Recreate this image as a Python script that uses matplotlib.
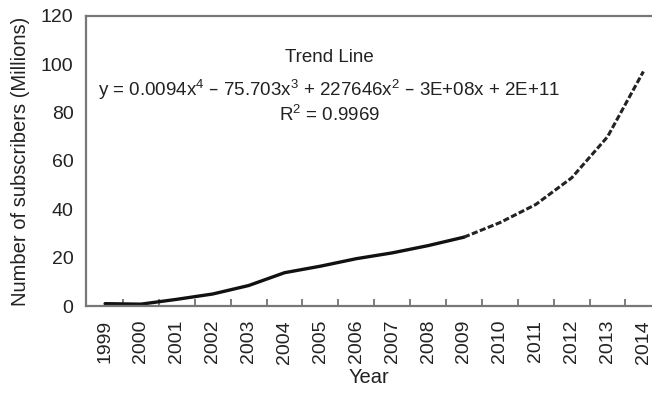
import numpy as np
import matplotlib.pyplot as plt

plt.rcParams['font.family'] = ['Liberation Sans', 'DejaVu Sans']
plt.rcParams['mathtext.default'] = 'regular'

years = [str(y) for y in range(1999, 2015)]
actual = [1.0, 0.8, 2.8, 5.0, 8.5, 13.8, 16.5, 19.6, 22.0, 25.0, 28.5]
trend = [28.5, 34.5, 42.0, 53.0, 70.0, 97.0]

fig = plt.figure(figsize=(6.52, 3.97), dpi=100)
ax = fig.add_axes([0.132, 0.229, 0.868, 0.731])

x_act = np.arange(len(actual))
x_tr = np.arange(len(actual) - 1, len(actual) - 1 + len(trend))
ax.plot(x_act, actual, color='#111111', lw=2.4, solid_capstyle='round')
ax.plot(x_tr, trend, color='#222222', lw=2.2, dashes=(2.0, 0.8))

ax.set_xlim(-0.53, 15.24)
ax.set_ylim(0, 120)
ax.set_yticks(range(0, 121, 20))
ax.set_xticks(range(len(years)))
ax.set_xticklabels(years, rotation=90)
ax.set_xticks(np.arange(0.5, len(years) - 1, 1), minor=True)
ax.tick_params(axis='x', which='major', length=0, pad=10, labelsize=14, labelcolor='#222222')
ax.tick_params(axis='x', which='minor', direction='in', length=5, width=1.2, color='#666666')
ax.tick_params(axis='y', length=0, pad=9, labelsize=14, labelcolor='#222222')

for s in ['left', 'bottom', 'top']:
    ax.spines[s].set_color('#777777')
    ax.spines[s].set_linewidth(1.6)
ax.spines['right'].set_visible(False)

ax.set_xlabel('Year', fontsize=14.5, color='#222222', labelpad=3)
ax.set_ylabel('Number of subscribers (Millions)', fontsize=14.5, color='#222222', labelpad=8)

# trend line annotation
ax.text(0.43, 0.855, 'Trend Line', transform=ax.transAxes, ha='center', va='center',
        fontsize=13.5, color='#222222')
ax.text(0.43, 0.745, 'y = 0.0094x$^4$ \u2013 75.703x$^3$ + 227646x$^2$ \u2013 3E+08x + 2E+11',
        transform=ax.transAxes, ha='center', va='center', fontsize=13.5, color='#222222')
ax.text(0.43, 0.66, 'R$^2$ = 0.9969', transform=ax.transAxes, ha='center', va='center',
        fontsize=13.5, color='#222222')

fig.savefig('out.png', dpi=100)
